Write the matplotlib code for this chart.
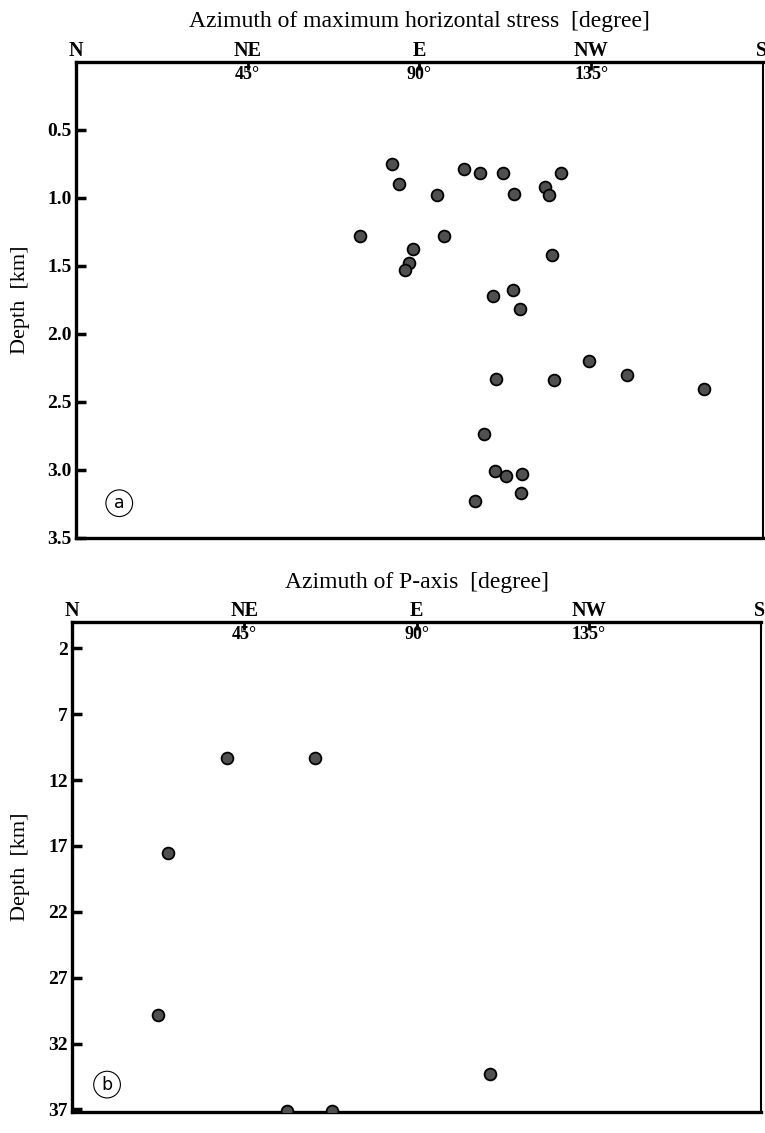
import numpy as np
import matplotlib.pyplot as plt

plt.rcParams['font.family'] = ['Liberation Serif', 'DejaVu Serif']

# panel (a): azimuth of maximum horizontal stress vs depth
az_a = [82.7, 84.6, 101.8, 105.8, 111.9, 127.1, 94.6, 114.9, 123.0, 124.0,
        74.5, 96.5, 88.3, 87.3, 86.2, 124.8, 114.5, 109.3, 116.4,
        134.5, 144.5, 164.6, 110.1, 125.2, 106.8, 109.7, 112.7, 116.8, 116.7, 104.6]
depth_a = [0.75, 0.90, 0.79, 0.815, 0.815, 0.82, 0.975, 0.968, 0.918, 0.975,
           1.278, 1.28, 1.376, 1.479, 1.529, 1.418, 1.674, 1.723, 1.819,
           2.196, 2.304, 2.408, 2.329, 2.341, 2.738, 3.011, 3.041, 3.033, 3.166, 3.225]

# panel (b): azimuth of P-axis vs depth
az_b = [40.5, 63.4, 25.2, 22.4, 109.2, 56.3, 68.0]
depth_b = [10.3, 10.3, 17.5, 29.8, 34.3, 37.1, 37.1]

dir_labels = ['N', 'NE', 'E', 'NW', 'S']
dir_pos = [0, 45, 90, 135, 180]
deg_pos = [45, 90, 135]
yticks_a = [0.5, 1.0, 1.5, 2.0, 2.5, 3.0, 3.5]
yticks_b = [2, 7, 12, 17, 22, 27, 32, 37]

fig = plt.figure(figsize=(7.65, 11.33), dpi=100)
ax1 = fig.add_axes([0.0993, 0.5252, 0.898, 0.4201])
ax2 = fig.add_axes([0.094, 0.0185, 0.901, 0.4325])


def style_panel(ax, az, depth, ymax, yticks, ylabels, title, title_y, letter, letter_pos):
    ax.scatter(az, depth, s=72, c='#505050', edgecolors='black', linewidths=1.3, zorder=3)
    ax.set_xlim(0, 180)
    ax.set_ylim(ymax, 0)
    for sp in ax.spines.values():
        sp.set_linewidth(2.4)
    ax.spines['right'].set_linewidth(1.5)
    ax.xaxis.tick_top()
    ax.set_xticks(deg_pos)
    ax.set_xticklabels([])
    ax.tick_params(axis='x', direction='in', length=6, width=2)
    ax.set_yticks(yticks)
    ax.set_yticklabels(ylabels, fontweight='bold', fontsize=14)
    ax.tick_params(axis='y', direction='in', length=7, width=2.5, pad=3)
    for lab, p in zip(dir_labels, dir_pos):
        ha = 'right' if p == 180 else 'center'
        x = p + 1 if p == 180 else p
        ax.text(x, 1.002, lab, transform=ax.get_xaxis_transform(), ha=ha,
                va='bottom', fontsize=14.5, fontweight='bold', clip_on=False)
    for p in deg_pos:
        ax.text(p, 0.992, '%d°' % p, transform=ax.get_xaxis_transform(), ha='center',
                va='top', fontsize=13, fontweight='bold')
    ax.text(0.5, title_y, title, transform=ax.transAxes, ha='center', va='bottom', fontsize=17)
    ax.set_ylabel('Depth  [km]', fontsize=16)
    ax.text(letter_pos[0], letter_pos[1], letter, transform=ax.transAxes, ha='center',
            va='center', fontsize=12.5, family='DejaVu Sans',
            bbox=dict(boxstyle='circle,pad=0.25', fc='white', ec='black', lw=0.8))


style_panel(ax1, az_a, depth_a, 3.5, yticks_a, ['0.5', '1.0', '1.5', '2.0', '2.5', '3.0', '3.5'],
            'Azimuth of maximum horizontal stress  [degree]', 1.062, 'a', (0.063, 0.073))
style_panel(ax2, az_b, depth_b, 37.2, yticks_b, [str(v) for v in yticks_b],
            'Azimuth of P-axis  [degree]', 1.06, 'b', (0.051, 0.056))

ax1.yaxis.set_label_coords(-0.067, 0.5)
ax2.yaxis.set_label_coords(-0.061, 0.5)

fig.savefig('out.png', dpi=100)
